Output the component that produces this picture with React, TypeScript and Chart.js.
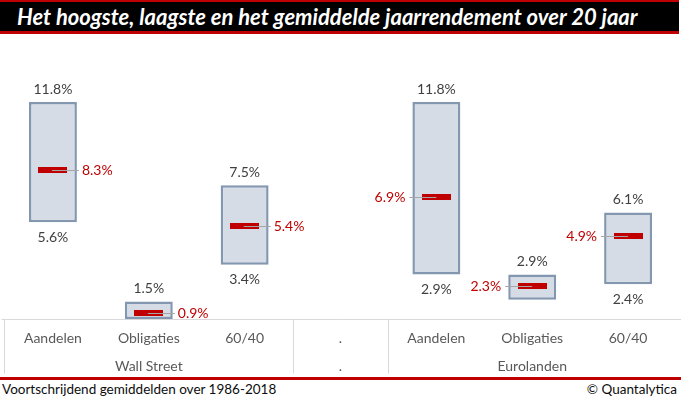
import React, { useEffect, useRef } from "react";
import { Chart, registerables } from "chart.js";

Chart.register(...registerables);

// ---- data ----
const titleText = "Het hoogste, laagste en het gemiddelde jaarrendement over 20 jaar";
const footnoteText = "Voortschrijdend gemiddelden over 1986-2018";
const creditText = "© Quantalytica";

const categories = ["Aandelen", "Obligaties", "60/40", ".", "Aandelen", "Obligaties", "60/40"];
const groupLabels = ["Wall Street", ".", "Eurolanden"];
const groupSizes = [3, 1, 3];

const maxValues: (number | null)[] = [11.8, 1.5, 7.5, null, 11.8, 2.9, 6.1];
const minValues: (number | null)[] = [5.6, 0.6, 3.4, null, 2.9, 1.6, 2.4];
const avgValues: (number | null)[] = [8.3, 0.9, 5.4, null, 6.9, 2.3, 4.9];

const yAxisMin = 0.6;
const yAxisMax = 15;

const FONT = "Lato, 'Open Sans', sans-serif";

function fmt(v: number) {
  return v.toFixed(1) + "%";
}

function groupOf(i: number) {
  let acc = 0;
  for (let g = 0; g < groupSizes.length; g++) {
    acc += groupSizes[g];
    if (i < acc) return g;
  }
  return groupSizes.length - 1;
}

export default function App() {
  const ref = useRef<HTMLCanvasElement | null>(null);

  useEffect(() => {
    const canvas = ref.current;
    if (!canvas) return;

    const marker = document.createElement("canvas");
    marker.width = 29;
    marker.height = 6;
    const mctx = marker.getContext("2d")!;
    mctx.fillStyle = "#C00000";
    mctx.fillRect(0, 0, 29, 6);

    const labelPlugin = {
      id: "rangeLabels",
      afterDatasetsDraw(chart: any) {
        const ctx = chart.ctx as CanvasRenderingContext2D;
        const xs = chart.scales.x;
        const ys = chart.scales.y;
        const area = chart.chartArea;
        ctx.save();
        ctx.font = "14px " + FONT;
        ctx.textBaseline = "middle";
        for (let i = 0; i < categories.length; i++) {
          const mx = maxValues[i];
          const mn = minValues[i];
          const av = avgValues[i];
          const x = xs.getPixelForValue(i);
          if (mx != null) {
            const yt = ys.getPixelForValue(mx);
            ctx.fillStyle = "#404040";
            ctx.textAlign = "center";
            ctx.fillText(fmt(mx), x, yt - 13);
          }
          if (mn != null) {
            const yb = ys.getPixelForValue(mn);
            if (yb + 20 < area.bottom) {
              ctx.fillStyle = "#404040";
              ctx.textAlign = "center";
              ctx.fillText(fmt(mn), x, yb + 15);
            }
          }
          if (av != null) {
            const ya = Math.round(ys.getPixelForValue(av)) + 0.5;
            const right = groupOf(i) === 0;
            ctx.strokeStyle = "#A6A6A6";
            ctx.lineWidth = 1;
            ctx.beginPath();
            if (right) {
              ctx.moveTo(x - 1, ya);
              ctx.lineTo(x + 26, ya);
            } else {
              ctx.moveTo(x, ya);
              ctx.lineTo(x - 27, ya);
            }
            ctx.stroke();
            ctx.fillStyle = "#C00000";
            ctx.textAlign = right ? "left" : "right";
            ctx.fillText(fmt(av), right ? x + 29 : x - 31, ya);
          }
        }
        ctx.restore();
      },
    };

    const axisPlugin = {
      id: "categoryBoxes",
      afterDraw(chart: any) {
        const ctx = chart.ctx as CanvasRenderingContext2D;
        const xs = chart.scales.x;
        const area = chart.chartArea;
        const bottom = Math.round(area.bottom) + 0.5;
        const h = 54;
        ctx.save();
        ctx.strokeStyle = "#D9D9D9";
        ctx.lineWidth = 1;
        ctx.beginPath();
        ctx.moveTo(1.5, bottom);
        ctx.lineTo(chart.width, bottom);
        const left = Math.round(area.left) - 0.5;
        ctx.moveTo(left, bottom);
        ctx.lineTo(left, bottom + h);
        let idx = 0;
        for (let g = 0; g < groupSizes.length - 1; g++) {
          idx += groupSizes[g];
          const bx = Math.round((xs.getPixelForValue(idx - 1) + xs.getPixelForValue(idx)) / 2) + 0.5;
          ctx.moveTo(bx, bottom);
          ctx.lineTo(bx, bottom + h);
        }
        ctx.stroke();

        ctx.font = "14px " + FONT;
        ctx.fillStyle = "#595959";
        ctx.textAlign = "center";
        ctx.textBaseline = "middle";
        categories.forEach((c, i) => {
          ctx.fillText(c, xs.getPixelForValue(i), bottom + 19);
        });
        let start = 0;
        groupLabels.forEach((gl, g) => {
          const end = start + groupSizes[g] - 1;
          const cx = (xs.getPixelForValue(start) + xs.getPixelForValue(end)) / 2;
          ctx.fillText(gl, cx, bottom + 47);
          start = end + 1;
        });
        ctx.restore();
      },
    };

    const chart = new Chart(canvas, {
      type: "bar",
      data: {
        labels: categories,
        datasets: [
          {
            type: "line",
            label: "Gemiddelde",
            data: avgValues as any,
            showLine: false,
            pointStyle: marker as any,
            pointRadius: 3,
            order: 0,
          } as any,
          {
            type: "bar",
            label: "Bereik",
            data: maxValues.map((mx, i) => (mx == null ? null : [minValues[i], mx])) as any,
            backgroundColor: "#D6DCE5",
            borderColor: "#8497B0",
            borderWidth: 2.5,
            borderSkipped: false,
            barPercentage: 0.5,
            categoryPercentage: 1,
            order: 1,
          } as any,
        ],
      },
      options: {
        responsive: false,
        animation: false,
        devicePixelRatio: 1,
        layout: { padding: { left: 2, right: 4, top: 6, bottom: 58 } },
        plugins: { legend: { display: false }, tooltip: { enabled: false } },
        scales: {
          x: { display: false, offset: true },
          y: { display: false, min: yAxisMin, max: yAxisMax },
        },
      },
      plugins: [labelPlugin, axisPlugin],
    });
    return () => chart.destroy();
  }, []);

  return (
    <div
      style={{
        position: "absolute",
        left: 0,
        top: 0,
        width: 681,
        height: 399,
        background: "#fff",
        overflow: "hidden",
      }}
    >
      <div
        style={{
          position: "absolute",
          left: 0,
          top: 0,
          width: 662,
          height: 29,
          background: "#000",
          borderTop: "2px solid #C00000",
          borderBottom: "3px solid #C00000",
          color: "#fff",
          fontFamily: FONT,
          fontWeight: 700,
          fontStyle: "italic",
          fontSize: 22,
          lineHeight: "29px",
          paddingLeft: 17,
          boxSizing: "content-box",
          whiteSpace: "nowrap",
        }}
      >
        {titleText}
      </div>
      <canvas
        ref={ref}
        width={681}
        height={343}
        style={{ position: "absolute", left: 0, top: 34, width: 681, height: 343 }}
      />
      <div
        style={{
          position: "absolute",
          left: 0,
          top: 377,
          width: 681,
          height: 3,
          background: "#C00000",
        }}
      />
      <div
        style={{
          position: "absolute",
          left: 2,
          top: 380,
          fontFamily: FONT,
          fontSize: 13.5,
          lineHeight: "18px",
          color: "#0D0D0D",
          whiteSpace: "nowrap",
        }}
      >
        {footnoteText}
      </div>
      <div
        style={{
          position: "absolute",
          right: 4,
          top: 380,
          fontFamily: FONT,
          fontSize: 13.5,
          lineHeight: "18px",
          color: "#0D0D0D",
          whiteSpace: "nowrap",
        }}
      >
        {creditText}
      </div>
    </div>
  );
}
